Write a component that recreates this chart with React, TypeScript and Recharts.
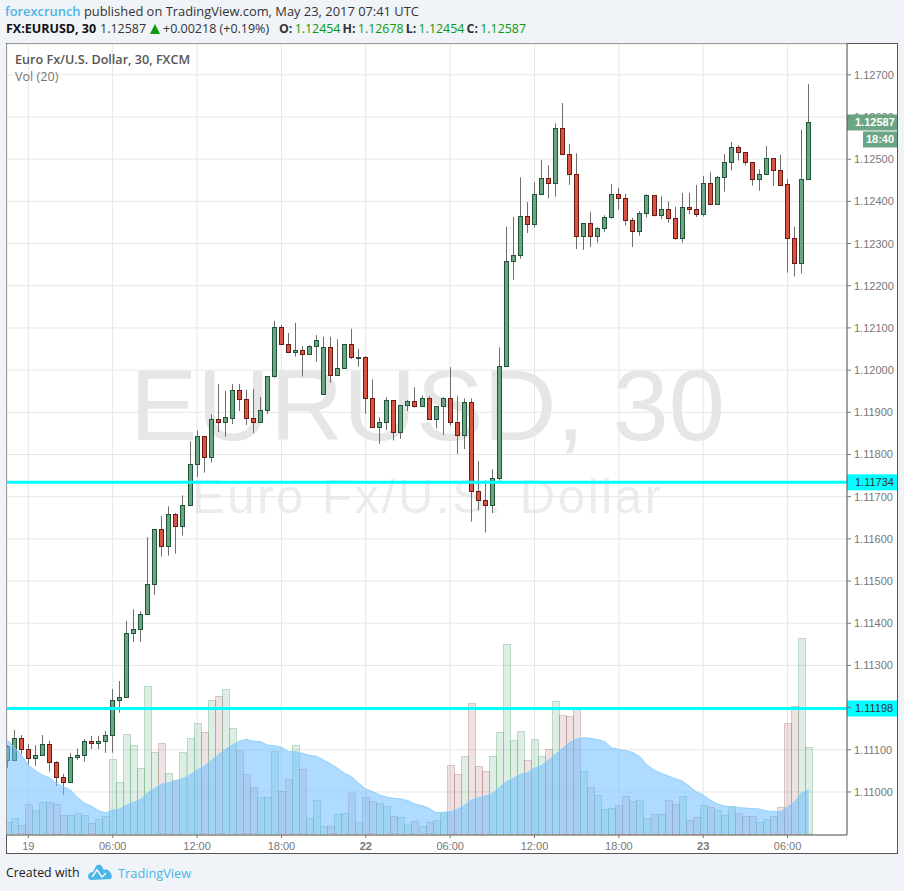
import React from "react";
import { ComposedChart, Bar, Area, XAxis, YAxis, CartesianGrid, ReferenceLine } from "recharts";

// Prices are in units of 0.00001 (1.12587 = 112587)
const opens = [111076,111075,111127,111101,111080,111087,111113,111070,111035,111023,111082,111087,111122,111115,111122,111134,111217,111224,111376,111386,111421,111492,111623,111582,111658,111630,111680,111777,111843,111793,111884,111878,111887,111952,111931,111887,111876,111905,111985,112102,112061,112042,112047,112038,112057,111943,112054,111988,112005,112061,112031,112031,111933,111865,111876,111929,111853,111917,111926,111914,111933,111884,111914,111933,111876,111846,111924,111713,111692,111680,111744,112009,112258,112272,112365,112346,112417,112455,112443,112574,112512,112464,112317,112348,112317,112336,112363,112417,112408,112355,112329,112372,112415,112367,112381,112360,112313,112386,112381,112370,112443,112393,112457,112493,112528,112517,112493,112453,112464,112502,112474,112441,112313,112253,112454];
const highs = [111111,111147,111135,111113,111111,111135,111121,111073,111043,111092,111103,111125,111133,111133,111145,111244,111263,111405,111433,111428,111604,111623,111654,111677,111661,111703,111831,111857,111843,111895,111967,111951,111967,111967,111953,111955,111936,111986,112117,112107,112088,112112,112057,112059,112083,112079,112079,112073,112061,112098,112050,112033,111978,111888,111936,111929,111917,111929,111959,111940,111938,111914,111936,112007,111938,111933,111933,111784,111739,111765,112054,112340,112363,112457,112398,112445,112498,112486,112585,112633,112536,112514,112348,112375,112339,112367,112441,112432,112418,112361,112377,112417,112415,112412,112400,112387,112420,112420,112439,112460,112469,112460,112512,112541,112533,112517,112493,112476,112531,112502,112510,112453,112340,112570,112678];
const lows = [111057,111075,111090,111064,111062,111087,111048,111014,110993,111023,111076,111072,111102,111102,111093,111093,111188,111224,111356,111356,111421,111467,111558,111560,111565,111608,111680,111747,111757,111781,111853,111842,111872,111903,111870,111851,111876,111896,111982,112061,112042,112032,111985,112038,112020,111943,111970,111988,112005,112026,112008,111896,111863,111825,111858,111833,111837,111903,111911,111914,111884,111862,111846,111869,111801,111813,111641,111667,111615,111661,111738,112009,112214,112264,112325,112338,112417,112407,112411,112512,112439,112287,112285,112292,112302,112328,112359,112380,112343,112292,112319,112362,112364,112358,112349,112309,112302,112370,112363,112364,112393,112393,112423,112473,112497,112485,112437,112425,112464,112437,112437,112231,112222,112229,112454];
const closes = [111109,111127,111101,111080,111087,111113,111070,111035,111023,111082,111087,111122,111115,111122,111134,111217,111224,111376,111386,111421,111492,111623,111582,111658,111630,111680,111777,111843,111793,111884,111878,111888,111952,111931,111887,111876,111905,111986,112102,112061,112042,112047,112038,112057,112071,112054,111988,112005,112061,112031,112032,111933,111865,111876,111929,111853,111917,111926,111914,111933,111884,111914,111933,111876,111846,111924,111713,111692,111680,111744,112009,112258,112272,112365,112346,112417,112455,112443,112574,112512,112464,112317,112348,112317,112336,112363,112417,112408,112355,112329,112372,112415,112367,112381,112360,112313,112386,112381,112370,112443,112393,112457,112493,112528,112517,112493,112453,112464,112502,112474,112438,112313,112253,112453,112587];
const volumes = [34,46,25,89,70,94,94,89,55,55,61,55,31,43,52,223,154,298,265,196,442,244,271,181,160,244,286,331,304,400,412,433,316,250,178,139,109,109,247,127,163,265,193,46,100,22,22,58,61,121,34,109,97,91,82,52,49,28,37,22,34,40,64,206,179,233,392,203,187,233,305,569,281,308,221,284,233,254,398,356,353,374,188,140,116,73,77,86,113,98,101,47,59,59,101,89,113,41,50,86,80,71,56,83,62,53,53,35,44,53,80,332,383,587,260];
const volumeMA = [281,259,236,206,189,176,167,151,141,131,109,91,82,69,62,71,74,86,94,103,123,136,149,153,159,166,176,191,203,219,236,253,266,278,283,277,276,266,264,259,246,246,241,235,232,221,209,196,181,171,151,134,126,116,109,106,104,99,89,84,76,63,64,66,73,84,101,107,113,120,139,156,166,178,183,196,205,221,239,256,274,284,288,286,282,276,257,253,249,243,231,206,191,181,173,165,158,143,126,116,101,89,83,80,78,77,75,74,68,67,66,81,96,123,131];

const timeTicks = [3, 15, 27, 39, 51, 63, 75, 87, 99, 111];
const timeLabels = ["19", "06:00", "12:00", "18:00", "22", "06:00", "12:00", "18:00", "23", "06:00"];
const boldLabels = ["22", "23"];
const priceTicks = [111000,111100,111200,111300,111400,111500,111600,111700,111800,111900,112000,112100,112200,112300,112400,112500,112600,112700];
const hiddenTick = 111200;
const partlyCoveredTick = 112600;
const levelHigh = 111734;
const levelLow = 111198;
const lastPrice = 112587;
const countdown = "18:40";

const rows = opens.map((o, i) => ({
  i,
  open: o,
  high: highs[i],
  low: lows[i],
  close: closes[i],
  range: [lows[i], highs[i]],
  vol: volumes[i],
  ma: volumeMA[i],
}));

const Candle = (p: any) => {
  const { x, y, width, height, payload } = p;
  const up = payload.close >= payload.open;
  const k = height / (payload.high - payload.low);
  const yOf = (v: number) => y + (payload.high - v) * k;
  const cx = Math.floor(x + width / 2) + 0.5;
  const top = Math.round(yOf(Math.max(payload.open, payload.close))) + 0.5;
  const bot = Math.round(yOf(Math.min(payload.open, payload.close))) + 0.5;
  return (
    <g>
      <line x1={cx} x2={cx} y1={y} y2={y + height} stroke="#6e6e6e" strokeWidth={1} />
      <rect x={cx - 2} y={top} width={4} height={Math.max(bot - top, 1)}
        fill={up ? "#6ba583" : "#d75442"} stroke={up ? "#225437" : "#6b1a12"} strokeWidth={1} />
    </g>
  );
};

const VolBar = (p: any) => {
  const { x, y, width, height, payload } = p;
  const up = payload.close >= payload.open;
  const left = Math.round(x) + 0.5;
  return (
    <rect x={left} y={Math.round(y) + 0.5} width={width} height={Math.max(height, 0)}
      fill={up ? "rgba(107,178,130,0.22)" : "rgba(172,100,100,0.19)"}
      stroke={up ? "rgba(80,160,100,0.32)" : "rgba(150,80,80,0.28)"} strokeWidth={1} />
  );
};

const TimeTick = (p: any) => {
  const { x, y, payload } = p;
  const label = timeLabels[timeTicks.indexOf(payload.value)];
  return (
    <text x={x} y={y + 10} textAnchor="middle" fontSize={11} fontFamily="Liberation Sans" fill="#777"
      fontWeight={boldLabels.includes(label) ? 700 : 400}>{label}</text>
  );
};

const PriceTick = (p: any) => {
  const { x, y, payload } = p;
  if (payload.value === hiddenTick) return <g />;
  const covered = payload.value === partlyCoveredTick;
  return (
    <g>
      {covered && <clipPath id="covered-tick"><rect x={x - 2} y={y - 12} width={50} height={10} /></clipPath>}
      <text x={x} y={y + 4} fontSize={11} fontFamily="Liberation Sans" fill="#777"
        clipPath={covered ? "url(#covered-tick)" : undefined}>{(payload.value / 100000).toFixed(5)}</text>
    </g>
  );
};

const PriceBox = (fill: string, textFill: string, text: string, extra?: string) => (p: any) => {
  const y = p.viewBox.y;
  return (
    <g>
      <rect x={847} y={y - 8} width={50} height={16} fill={fill} />
      <text x={855} y={y + 4} fontSize={11} fontFamily="Liberation Sans" fill={textFill}
        fontWeight={extra ? 700 : 400}>{text}</text>
      {extra && <rect x={863} y={y + 9} width={34} height={16} fill={fill} />}
      {extra && <text x={880} y={y + 21} textAnchor="middle" fontSize={11} fontFamily="Liberation Sans" fontWeight={700} fill={textFill}>{extra}</text>}
    </g>
  );
};

const head: React.CSSProperties = { position: "absolute", whiteSpace: "nowrap", fontFamily: "'Open Sans'", lineHeight: "16px" };
const domainX: [number, number] = [-0.034, 119.45];
const upText = "#0a9a0a";

export default function App() {
  return (
    <div style={{ position: "absolute", left: 0, top: 0, width: 904, height: 891, background: "#f0f3f7", overflow: "hidden" }}>
      <div style={{ ...head, left: 5, top: 3, fontSize: 12.9, color: "#333" }}>
        <span style={{ color: "#4ab5e8", fontWeight: 600 }}>forexcrunch</span> published on TradingView.com, May 23, 2017 07:41 UTC
      </div>
      <div style={{ ...head, left: 6, top: 21, fontSize: 12.5, color: "#111", fontWeight: 700 }}>FX:EURUSD, 30</div>
      <div style={{ ...head, left: 100, top: 21, fontSize: 12.5, color: "#333" }}>1.12587</div>
      <div style={{ position: "absolute", left: 150, top: 24, width: 0, height: 0, borderLeft: "5px solid transparent", borderRight: "5px solid transparent", borderBottom: "10px solid #0a9a0a" }} />
      <div style={{ ...head, left: 163, top: 21, fontSize: 12.5, color: "#333" }}>+0.00218 (+0.19%)</div>
      <div style={{ ...head, left: 279, top: 21, fontSize: 12.4, color: "#333", wordSpacing: -1 }}>
        <b>O:</b> <span style={{ color: upText }}>1.12454</span> <b>H:</b> <span style={{ color: upText }}>1.12678</span> <b>L:</b> <span style={{ color: upText }}>1.12454</span> <b>C:</b> <span style={{ color: upText }}>1.12587</span>
      </div>

      <div style={{ position: "absolute", left: 6, top: 43, width: 890, height: 809, background: "#fff", border: "1px solid #555" }} />
      <div style={{ position: "absolute", left: 130, top: 345, fontSize: 101, lineHeight: "120px", fontFamily: "'Liberation Sans'", color: "#e6e6e6", whiteSpace: "nowrap" }}>EURUSD, 30</div>
      <div style={{ position: "absolute", left: 192, top: 467, fontSize: 49, lineHeight: "58px", fontFamily: "'Liberation Sans'", color: "#ececec", whiteSpace: "nowrap", letterSpacing: 2.6 }}>Euro Fx/U.S. Dollar</div>

      <div style={{ position: "absolute", left: 0, top: 0 }}>
        <ComposedChart width={904} height={891} data={rows} margin={{ top: 44, right: 0, bottom: 36, left: 7 }}>
          <XAxis xAxisId="t" dataKey="i" type="number" scale="linear" domain={domainX} allowDataOverflow ticks={timeTicks} interval={0}
            height={20} stroke="#555" tick={<TimeTick />} tickLine={{ stroke: "#777" }} tickSize={3} />
          <XAxis xAxisId="v" dataKey="i" type="number" scale="linear" domain={domainX} allowDataOverflow hide />
          <YAxis yAxisId="price" orientation="right" type="number" domain={[110898, 112773]} allowDataOverflow ticks={priceTicks} interval={0} width={57}
            stroke="#555" tickSize={4} tickMargin={3} tickLine={{ stroke: "#777" }} tick={<PriceTick />} />
          <YAxis yAxisId="vol" hide type="number" domain={[-4, 2369]} allowDataOverflow />
          <CartesianGrid xAxisId="t" yAxisId="price" stroke="#e6e6e6" strokeWidth={1} />
          <Bar xAxisId="v" yAxisId="vol" dataKey="vol" barSize={7} shape={<VolBar />} isAnimationActive={false} zIndex={300} />
          <Bar xAxisId="t" yAxisId="price" dataKey="range" barSize={7} shape={<Candle />} isAnimationActive={false} zIndex={310} />
          <Area xAxisId="v" yAxisId="vol" dataKey="ma" type="linear" stroke="#8fd0fb" strokeWidth={1} fill="#6abcff" fillOpacity={0.54} dot={false} activeDot={false} isAnimationActive={false} zIndex={350} />
          <ReferenceLine xAxisId="t" yAxisId="price" y={levelHigh} stroke="#00ffff" strokeWidth={3} label={PriceBox("#00ffff", "#333", "1.11734")} />
          <ReferenceLine xAxisId="t" yAxisId="price" y={levelLow} stroke="#00ffff" strokeWidth={3} label={PriceBox("#00ffff", "#333", "1.11198")} />
          <ReferenceLine xAxisId="t" yAxisId="price" y={lastPrice} stroke="none" label={PriceBox("#6ba583", "#fff", "1.12587", countdown)} />
        </ComposedChart>
      </div>

      <div style={{ ...head, left: 15, top: 52, fontSize: 12.6, fontWeight: 600, color: "#555" }}>Euro Fx/U.S. Dollar, 30, FXCM</div>
      <div style={{ ...head, left: 15, top: 69, fontSize: 12.6, color: "#777" }}>Vol (20)</div>

      <div style={{ ...head, left: 6, top: 865, fontSize: 12.4, color: "#222" }}>Created with</div>
      <svg style={{ position: "absolute", left: 87, top: 864 }} width={26} height={17} viewBox="0 0 26 17">
        <path d="M1 12 Q2 8 6 8 L9 2 Q11 0 14 1 L17 6 Q20 4 23 8 Q26 12 24 15 L4 16 Q1 15 1 12 Z" fill="#4ab5e8" />
        <path d="M5 13 L10 6 L15 13 L19 9" fill="none" stroke="#f0f3f7" strokeWidth={1.6} />
      </svg>
      <div style={{ ...head, left: 118, top: 865, fontSize: 12.8, color: "#4ab5e8" }}>TradingView</div>
    </div>
  );
}
